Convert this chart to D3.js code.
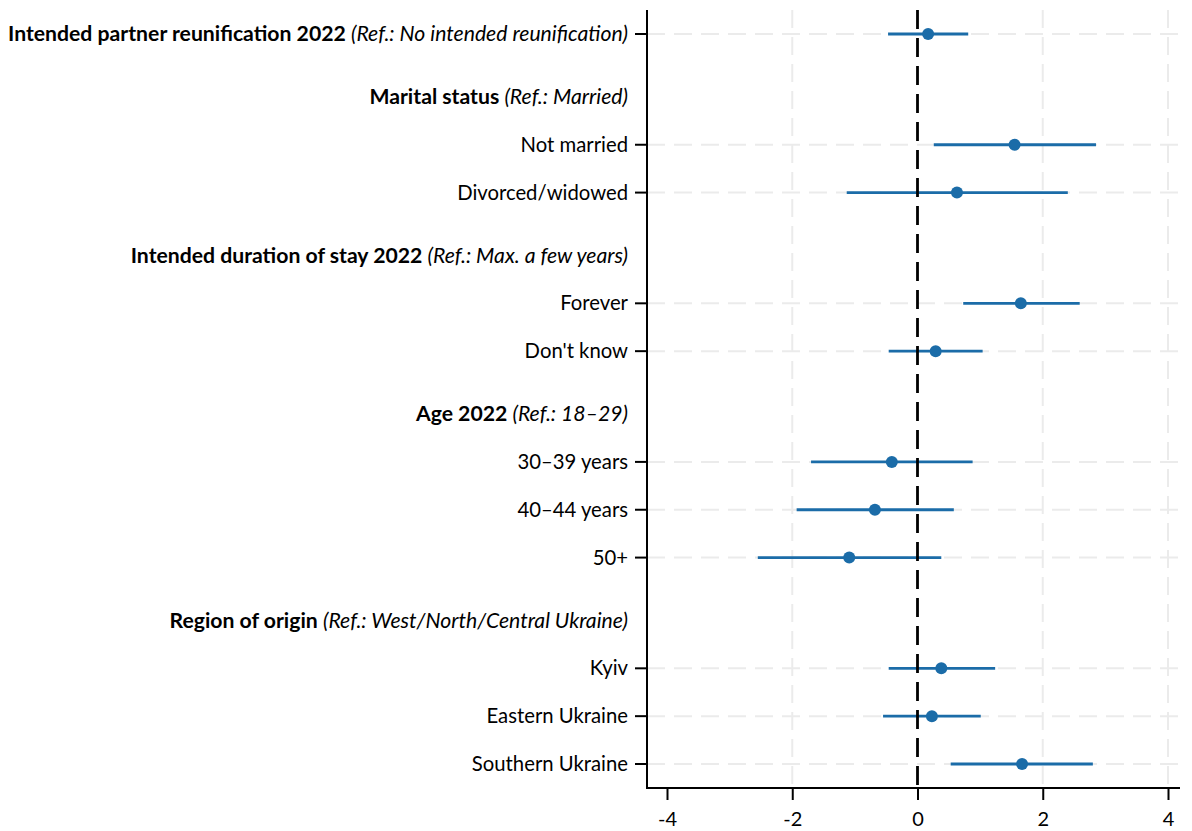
<!DOCTYPE html>
<html>
  <head>
    <meta charset="utf-8">
    <script src="https://d3js.org/d3.v7.min.js"></script>
    <style>
      body { margin: 0; background: #fff; }
      svg { display: block; font-family: Lato, "Open Sans", sans-serif; }
    </style>
  </head>
<body>
<script>
"use strict";

// coefficient rows, top to bottom
var rowLabels = ["Intended partner reunification 2022", "Not married", "Divorced/widowed",
  "Forever", "Don't know", "30\u201339 years", "40\u201344 years", "50+",
  "Kyiv", "Eastern Ukraine", "Southern Ukraine"];
var rowRefs = ["No intended reunification", null, null, null, null, null, null, null, null, null, null];
var rowGroup = [-1, 0, 0, 1, 1, 2, 2, 2, 3, 3, 3];

var groupTitles = ["Marital status", "Intended duration of stay 2022", "Age 2022", "Region of origin"];
var groupRefs = ["Married", "Max. a few years", "18\u201329", "West/North/Central Ukraine"];

var estimates = [0.17, 1.55, 0.63, 1.65, 0.29, -0.41, -0.68, -1.09, 0.38, 0.23, 1.67];
var ciLower = [-0.47, 0.26, -1.13, 0.73, -0.46, -1.70, -1.93, -2.55, -0.46, -0.55, 0.53];
var ciUpper = [0.81, 2.85, 2.40, 2.59, 1.04, 0.88, 0.58, 0.38, 1.24, 1.01, 2.80];

var xTicks = [-4, -2, 0, 2, 4];
var xGrid = [-2, 2, 4];

function draw() {
  var width = 1192, height = 831;
  var plotLeft = 647, plotRight = 1180, plotTop = 10, plotBottom = 788;
  var blue = "#1b6ca8", grid = "#ebebeb";

  // build the row sequence: headers get a little extra space above them
  var rows = [];
  var pos = 0, lastGroup = -1;
  rowLabels.forEach(function(lab, i) {
    if (rowGroup[i] !== lastGroup && rowGroup[i] >= 0) {
      pos += rows.length ? 1.315 : 0;
      rows.push({type: "header", pos: pos, title: groupTitles[rowGroup[i]], ref: groupRefs[rowGroup[i]]});
      lastGroup = rowGroup[i];
    }
    pos += rows.length ? 1 : 0;
    rows.push({type: "item", pos: pos, label: lab, ref: rowRefs[i], b: estimates[i], lo: ciLower[i], hi: ciUpper[i]});
  });

  var x = d3.scaleLinear().domain([-4, 4]).range([667, 1168]);
  var y = d3.scaleLinear().domain([0, pos]).range([34, 764]);

  var svg = d3.select("body").append("svg").attr("width", width).attr("height", height);

  var items = rows.filter(function(d) { return d.type === "item"; });

  // gridlines
  svg.append("g").selectAll("line").data(xGrid).enter().append("line")
    .attr("x1", function(d) { return x(d); }).attr("x2", function(d) { return x(d); })
    .attr("y1", plotTop).attr("y2", plotBottom)
    .style("stroke", grid).style("stroke-width", 2).style("stroke-dasharray", "18 9");
  svg.append("g").selectAll("line").data(items).enter().append("line")
    .attr("x1", plotLeft).attr("x2", plotRight)
    .attr("y1", function(d) { return y(d.pos); }).attr("y2", function(d) { return y(d.pos); })
    .style("stroke", grid).style("stroke-width", 2).style("stroke-dasharray", "18 9");

  // confidence intervals
  svg.append("g").selectAll("line").data(items).enter().append("line")
    .attr("x1", function(d) { return x(d.lo); }).attr("x2", function(d) { return x(d.hi); })
    .attr("y1", function(d) { return y(d.pos); }).attr("y2", function(d) { return y(d.pos); })
    .style("stroke", blue).style("stroke-width", 2.8);

  // zero reference line
  svg.append("line")
    .attr("x1", x(0)).attr("x2", x(0)).attr("y1", plotTop).attr("y2", plotBottom)
    .style("stroke", "#000").style("stroke-width", 2.8).style("stroke-dasharray", "19 9");

  // point estimates
  svg.append("g").selectAll("circle").data(items).enter().append("circle")
    .attr("cx", function(d) { return x(d.b); }).attr("cy", function(d) { return y(d.pos); })
    .attr("r", 6).style("fill", blue);

  // axes
  var xAxis = svg.append("g").attr("transform", "translate(0," + plotBottom + ")")
    .call(d3.axisBottom(x).tickValues(xTicks).tickSize(12).tickPadding(12)
      .tickFormat(function(d) { return String(d); }));
  xAxis.select(".domain").remove();
  xAxis.selectAll(".tick line").style("stroke", "#000").style("stroke-width", 2);
  xAxis.selectAll("text").style("font-size", "20px").style("font-family", "Lato").style("fill", "#000");
  svg.append("line").attr("x1", plotLeft).attr("x2", plotRight).attr("y1", plotBottom).attr("y2", plotBottom)
    .style("stroke", "#000").style("stroke-width", 2);
  svg.append("line").attr("x1", plotLeft).attr("x2", plotLeft).attr("y1", plotTop).attr("y2", plotBottom + 1)
    .style("stroke", "#000").style("stroke-width", 2);

  // y tick marks for coefficient rows
  svg.append("g").selectAll("line").data(items).enter().append("line")
    .attr("x1", plotLeft - 12).attr("x2", plotLeft)
    .attr("y1", function(d) { return y(d.pos); }).attr("y2", function(d) { return y(d.pos); })
    .style("stroke", "#000").style("stroke-width", 2);

  // row labels
  var labels = svg.append("g").selectAll("text").data(rows).enter().append("text")
    .attr("x", 628).attr("y", function(d) { return y(d.pos); })
    .attr("dy", "0.35em").attr("text-anchor", "end")
    .style("font-size", "20.3px").style("fill", "#000");

  labels.each(function(d) {
    var t = d3.select(this);
    if (d.type === "header" || d.ref) {
      t.style("font-size", "21.2px");
      t.append("tspan").style("font-weight", "bold").text((d.title || d.label) + " ");
      t.append("tspan").style("font-style", "italic").text("(Ref.: " + d.ref + ")");
    } else {
      t.text(d.label);
    }
  });
}

draw();
</script>
</body>
</html>
